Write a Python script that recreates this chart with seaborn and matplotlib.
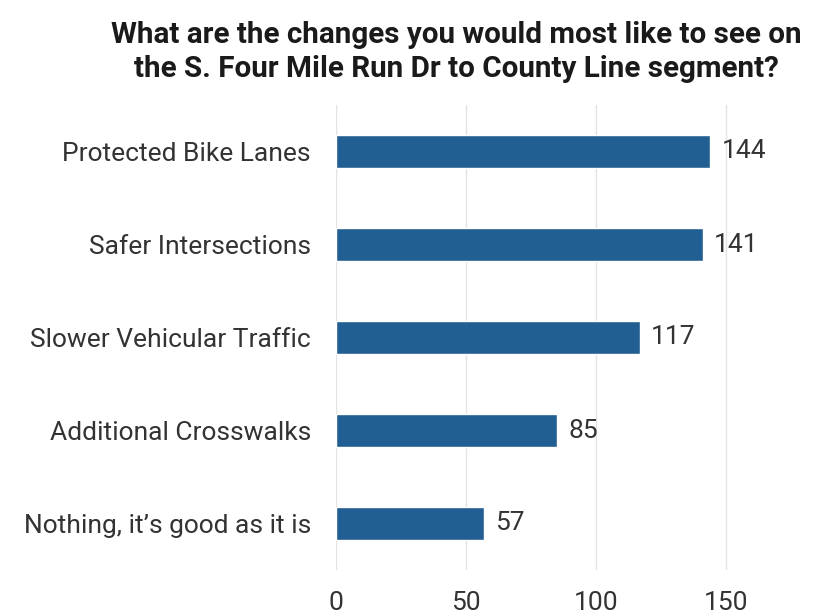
import matplotlib
matplotlib.use("Agg")
import matplotlib.pyplot as plt
from matplotlib.transforms import Bbox, TransformedBbox
import seaborn as sns
import pandas as pd

categories = [
    "Protected Bike Lanes",
    "Safer Intersections",
    "Slower Vehicular Traffic",
    "Additional Crosswalks",
    "Nothing, it\u2019s good as it is",
]
counts = [144, 141, 117, 85, 57]
x_ticks = [0, 50, 100, 150]
title = ("What are the changes you would most like to see on\n"
         "the S. Four Mile Run Dr to County Line segment?")

df = pd.DataFrame({"change": categories, "count": counts})

sns.set_theme(style="white")
plt.rcParams["font.family"] = ["Roboto", "DejaVu Sans"]

fig = plt.figure(figsize=(8.4, 6.16), dpi=100)
ax = fig.add_axes([336 / 840, 1 - 570 / 616, (752 - 336) / 840, (570 - 105) / 616])

sns.barplot(data=df, x="count", y="change", color="#215f92",
            width=0.35, ax=ax, saturation=1)

ax.set_xlim(0, 160)
ax.set_xticks(x_ticks)
ax.grid(axis="x", color="#e4e4e4", linewidth=1)
ax.set_axisbelow(True)
for s in ax.spines.values():
    s.set_visible(False)
ax.set_xlabel("")
ax.set_ylabel("")
ax.tick_params(axis="y", length=0, pad=18, labelsize=19, labelcolor="#333333")
ax.tick_params(axis="x", length=0, pad=15, labelsize=19, labelcolor="#333333")

for cont in ax.containers:
    ax.bar_label(cont, labels=[str(v) for v in counts], padding=8,
                 fontsize=19, color="#333333")

# title box is narrower than the text, so the end of the first line is clipped
title_text = fig.text(456 / 840, 1 - 52 / 616, title, ha="center", va="center",
                      fontsize=21.3, fontweight="bold", color="#1a1a1a",
                      linespacing=1.25)
title_text.set_clip_box(TransformedBbox(Bbox([[0, 0], [802 / 840, 1]]),
                                        fig.transFigure))
title_text.set_clip_on(True)

fig.savefig("out.png", dpi=100, facecolor="white")
